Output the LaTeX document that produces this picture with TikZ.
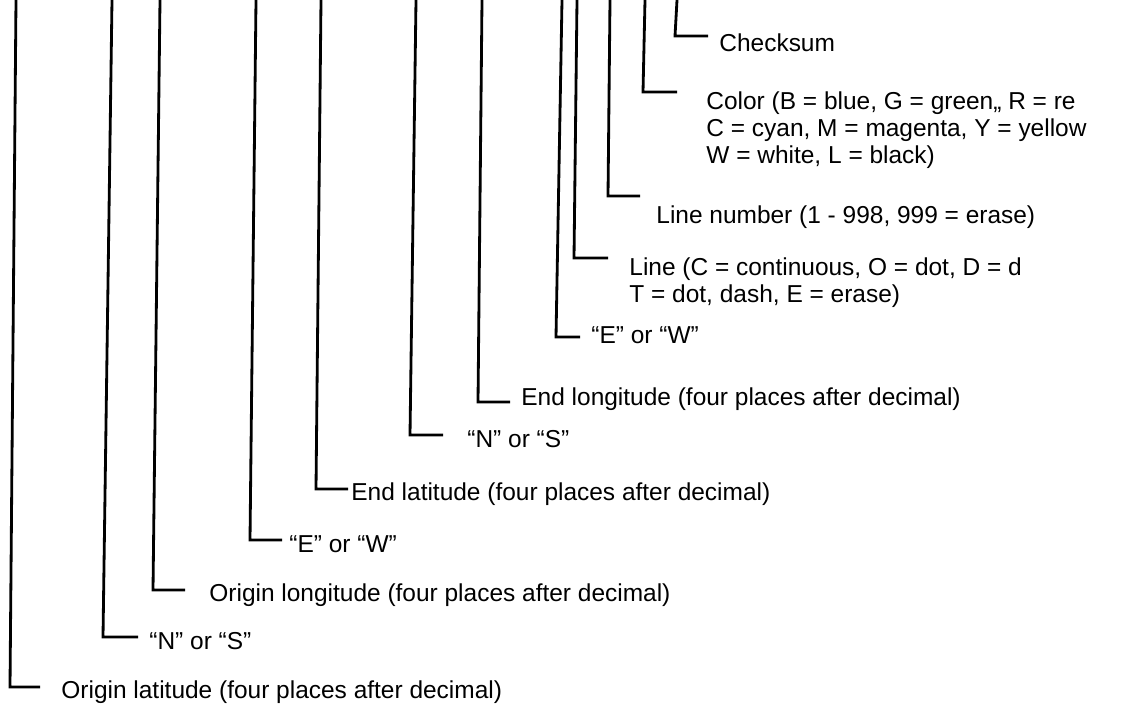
\documentclass[tikz,border=0pt]{standalone}
\usepackage{fontspec}
\setmainfont{Liberation Sans}

\begin{document}
\begin{tikzpicture}[x=0.025cm,y=-0.025cm,line width=2pt,
  lbl/.style={anchor=base west,inner sep=0pt,align=left,
    font=\fontsize{17.4}{19.1}\selectfont}]
  \useasboundingbox (0,0) rectangle (1129,710);
  \clip (0,0) rectangle (1129,710);

  % top end, corner and free end of every leader
  \coordinate (oLatT) at (16,0);  \coordinate (oLatC) at (10,687);  \coordinate (oLatE) at (40,687);
  \coordinate (oNST)  at (112,0); \coordinate (oNSC)  at (103,637); \coordinate (oNSE)  at (138,637);
  \coordinate (oLonT) at (160,0); \coordinate (oLonC) at (153,590); \coordinate (oLonE) at (185,590);
  \coordinate (oEWT)  at (256,0); \coordinate (oEWC)  at (250,540); \coordinate (oEWE)  at (282,540);
  \coordinate (eLatT) at (321,0); \coordinate (eLatC) at (316,489); \coordinate (eLatE) at (348,489);
  \coordinate (eNST)  at (416,0); \coordinate (eNSC)  at (410,435); \coordinate (eNSE)  at (443,435);
  \coordinate (eLonT) at (482,0); \coordinate (eLonC) at (478,402); \coordinate (eLonE) at (510,402);
  \coordinate (eEWT)  at (562,0); \coordinate (eEWC)  at (556,337); \coordinate (eEWE)  at (580,337);
  \coordinate (lineT) at (577,0); \coordinate (lineC) at (574,258); \coordinate (lineE) at (608,258);
  \coordinate (lnumT) at (610,0); \coordinate (lnumC) at (608,196); \coordinate (lnumE) at (640,196);
  \coordinate (colT)  at (645,0); \coordinate (colC)  at (643,92);  \coordinate (colE)  at (677,92);
  \coordinate (chkT)  at (677,0); \coordinate (chkC)  at (675,36);  \coordinate (chkE)  at (708,36);

  % labels (multi-line ones sit on the baseline of their last line)
  \node[lbl] (oLat) at (60,698)  {Origin latitude (four places after decimal)};
  \node[lbl] (oNS)  at (148,649) {“N” or “S”};
  \node[lbl] (oLon) at (208,601) {Origin longitude (four places after decimal)};
  \node[lbl] (oEW)  at (288,552) {“E” or “W”};
  \node[lbl] (eLat) at (350,500) {End latitude (four places after decimal)};
  \node[lbl] (eNS)  at (466,447) {“N” or “S”};
  \node[lbl] (eLon) at (520,405) {End longitude (four places after decimal)};
  \node[lbl] (eEW)  at (590,343) {“E” or “W”};
  \node[lbl] (line) at (628,302) {Line (C = continuous, O = dot, D = d\\T = dot, dash, E = erase)};
  \node[lbl] (lnum) at (655,223) {Line number (1 - 998, 999 = erase)};
  \node[lbl] (col)  at (705,163) {Color (B = blue, G = green,, R = re\\C = cyan, M = magenta, Y = yellow\\W = white, L = black)};
  \node[lbl] (chk)  at (718,51)  {Checksum};

  \draw (oLatT) -- (oLatC) -- (oLatE);
  \draw (oNST) -- (oNSC) -- (oNSE);
  \draw (oLonT) -- (oLonC) -- (oLonE);
  \draw (oEWT) -- (oEWC) -- (oEWE);
  \draw (eLatT) -- (eLatC) -- (eLatE);
  \draw (eNST) -- (eNSC) -- (eNSE);
  \draw (eLonT) -- (eLonC) -- (eLonE);
  \draw (eEWT) -- (eEWC) -- (eEWE);
  \draw (lineT) -- (lineC) -- (lineE);
  \draw (lnumT) -- (lnumC) -- (lnumE);
  \draw (colT) -- (colC) -- (colE);
  \draw (chkT) -- (chkC) -- (chkE);
\end{tikzpicture}
\end{document}
